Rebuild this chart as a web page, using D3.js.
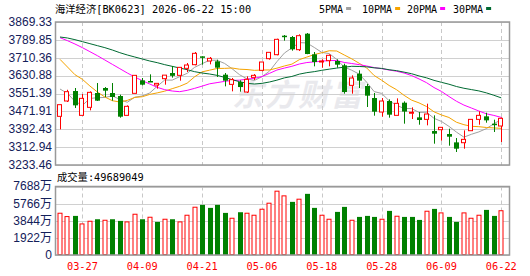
<!DOCTYPE html>
<html><head><meta charset="utf-8">
<script src="https://cdn.jsdelivr.net/npm/d3@7"></script>
<style>html,body{margin:0;padding:0;background:#fff;}svg{display:block;}</style>
</head><body>
<svg id="c" width="530" height="276"></svg>
<script>
const dates = ["03-24","03-25","03-26","03-27","03-30","03-31","04-01","04-02","04-03","04-07",
"04-08","04-09","04-10","04-13","04-14","04-15","04-16","04-17","04-20","04-21",
"04-22","04-23","04-24","04-27","04-28","04-29","04-30","05-06","05-07","05-08",
"05-11","05-12","05-13","05-14","05-15","05-18","05-19","05-20","05-21","05-22",
"05-25","05-26","05-27","05-28","05-29","06-01","06-02","06-03","06-04","06-05",
"06-08","06-09","06-10","06-11","06-12","06-15","06-16","06-17","06-18","06-22"];
const opens = [3449.8,3518.0,3562.4,3454.2,3489.8,3553.6,3575.8,3553.6,3540.2,3454.2,
3552.1,3609.9,3607.0,3589.0,3617.3,3642.5,3632.1,3663.3,3679.6,3716.6,
3695.9,3694.4,3635.1,3592.0,3602.5,3558.0,3623.2,3654.4,3706.3,3724.0,
3808.5,3802.6,3746.3,3817.4,3725.5,3691.4,3697.4,3695.9,3676.6,3587.6,
3639.5,3584.7,3531.3,3469.0,3518.0,3454.2,3510.5,3465.0,3445.3,3436.4,
3384.5,3390.5,3371.2,3334.1,3332.6,3386.0,3436.4,3449.8,3417.2,3406.8];
const closes = [3501.7,3559.5,3498.7,3529.8,3556.5,3519.5,3564.0,3535.8,3448.3,3494.3,
3632.1,3590.6,3604.0,3596.5,3633.0,3630.0,3667.7,3678.1,3730.0,3713.7,
3707.7,3666.2,3608.4,3612.9,3580.2,3614.3,3632.1,3691.4,3734.4,3792.2,
3805.6,3747.8,3808.5,3727.0,3691.4,3695.9,3721.1,3679.6,3558.0,3620.3,
3608.4,3541.7,3470.5,3518.0,3457.2,3507.6,3471.0,3468.0,3433.5,3460.2,
3372.7,3400.9,3359.3,3306.0,3347.5,3436.4,3454.2,3432.0,3414.2,3440.9];
const highs = [3503.0,3568.0,3575.8,3549.1,3561.0,3598.0,3580.0,3598.0,3546.1,3498.7,
3633.0,3620.3,3636.6,3597.0,3633.5,3673.6,3668.0,3687.0,3735.9,3717.0,
3713.7,3701.8,3642.5,3620.3,3610.0,3627.7,3638.0,3692.0,3735.0,3795.2,
3811.5,3807.1,3814.5,3820.4,3735.9,3703.3,3725.5,3703.3,3684.0,3632.1,
3654.4,3593.6,3553.6,3531.3,3525.4,3529.8,3516.5,3489.8,3469.0,3506.1,
3454.2,3401.5,3394.9,3353.4,3387.5,3437.0,3472.0,3466.0,3435.0,3445.3];
const lows = [3392.0,3513.5,3486.8,3453.5,3476.5,3518.0,3535.8,3519.5,3443.9,3453.5,
3551.5,3587.6,3603.0,3572.8,3590.6,3621.8,3608.4,3647.0,3676.6,3679.6,
3681.0,3624.7,3583.2,3561.0,3559.5,3553.6,3611.4,3650.0,3701.8,3721.1,
3786.3,3741.8,3740.3,3726.0,3672.2,3666.2,3672.2,3666.2,3550.6,3550.6,
3575.8,3491.3,3452.7,3448.3,3443.9,3453.5,3417.2,3437.9,3412.7,3409.8,
3328.2,3341.5,3319.3,3291.2,3306.0,3385.5,3412.7,3421.6,3380.1,3335.6];
// volume in 万
const volumes = [4688,4313,4388,3488,3788,4013,3900,4013,3825,3713,
4575,4013,4238,3713,4013,4013,3713,4463,5363,5625,
5288,5625,4725,4125,4800,4688,4463,5138,5813,7163,
6638,5963,6263,6863,5288,4463,4013,4838,5400,3900,
4275,4388,4275,4013,4950,4350,4275,4275,3938,4913,
5175,4725,4275,3713,4725,4125,4463,5063,4388,4969];
// moving-average values before the window is complete
const ma5Early = [3571.3,3552.1,3516.5,3498.7];
const ma10Early = [3703.3,3669.2,3635.1,3614.3,3584.7,3558.0,3535.8,3519.4,3513.5];
const ma20Early = [3799.7,3786.3,3771.5,3755.2,3737.4,3719.6,3700.3,3681.0,3661.8,3642.5,
3624.7,3608.4,3593.6,3578.8,3568.4,3562.5,3559.5,3565.4,3574.3];
const ma30Early = [3802.6,3798.2,3790.8,3781.9,3773.0,3764.1,3755.2,3744.8,3732.9,3722.6,
3713.7,3704.8,3695.9,3688.5,3679.6,3672.2,3664.7,3657.3,3648.4,3642.5,
3638.1,3632.1,3623.2,3612.9,3604.0,3596.5,3593.6,3596.5,3602.5];
const priceTicks = [3869.33,3789.85,3710.36,3630.88,3551.39,3471.91,3392.43,3312.94,3233.46];
const volTicks = [0,1922,3844,5766,7688];
const xTickLabels = ["03-27","04-09","04-21","05-06","05-18","05-28","06-09","06-22"];
const maNames = ["5PMA","10PMA","20PMA","30PMA"];
const maColors = ["#a0a0a0","#f5a300","#ff00ff","#006a32"];
const title = "海洋经济[BK0623] 2026-06-22 15:00";
const volTitle = "成交量:49689049";

function movingAvg(n, early){
  return closes.map((c,i)=> i>=n-1 ? d3.mean(closes.slice(i-n+1,i+1)) : early[i]);
}
const mas = [movingAvg(5,ma5Early),movingAvg(10,ma10Early),movingAvg(20,ma20Early),movingAvg(30,ma30Early)];

const svg = d3.select("#c");
const L = 55, R = 509.5, PT = 22, PB = 165, VT = 186.5, VB = 255;
const x = d3.scaleBand().domain(dates).range([56.25, 505.05]).padding(0);
const cx = d => x(d) + x.bandwidth()/2;
const y = d3.scaleLinear().domain([3233.46,3869.33]).range([PB,PT]);
const yv = d3.scaleLinear().domain([0,7688]).range([VB,VT]);
const RED = "#ff0000", GREEN = "#008000";
const monoFont = "'DejaVu Sans Mono','Noto Sans CJK SC',monospace";

// watermark
svg.append("text").attr("x",232).attr("y",106).attr("font-size",31).attr("font-weight","bold")
  .attr("font-style","italic").attr("fill","#e9e9ed").attr("font-family","'Noto Sans CJK SC'")
  .attr("letter-spacing",2).text("东方财富");

// grid price panel
svg.append("g").selectAll("line").data(priceTicks).join("line")
  .attr("x1",L).attr("x2",R).attr("y1",d=>Math.round(y(d))+0.5).attr("y2",d=>Math.round(y(d))+0.5)
  .attr("stroke","#d0d0d0").attr("stroke-width",1);
svg.append("g").selectAll("line").data(volTicks).join("line")
  .attr("x1",L).attr("x2",R).attr("y1",d=>Math.round(yv(d))+0.5).attr("y2",d=>Math.round(yv(d))+0.5)
  .attr("stroke","#d0d0d0").attr("stroke-width",1);
// vertical dashed
[[PT,PB],[VT,VB]].forEach(([t,b])=>{
  svg.append("g").selectAll("line").data(xTickLabels).join("line")
    .attr("x1",d=>Math.round(cx(d))+0.5).attr("x2",d=>Math.round(cx(d))+0.5).attr("y1",t).attr("y2",b)
    .attr("stroke","#c8c8c8").attr("stroke-dasharray","4,3");
});

// axes
const fmtP = d3.format(".2f");
const ay = svg.append("g").attr("transform",`translate(${L-3},0)`)
  .call(d3.axisLeft(y).tickValues(priceTicks).tickSize(0).tickPadding(0).tickFormat(fmtP));
ay.select(".domain").remove();
ay.selectAll("text").attr("font-family","'Liberation Sans',Arial,sans-serif").attr("font-size",12)
  .attr("fill","#13205a").attr("dy","0.28em");
const av = svg.append("g").attr("transform",`translate(${L-3},0)`)
  .call(d3.axisLeft(yv).tickValues(volTicks).tickSize(0).tickPadding(0).tickFormat(d=> d===0?"0":d+"万"));
av.select(".domain").remove();
av.selectAll("text").attr("font-family","'Liberation Sans','Noto Sans CJK SC',sans-serif").attr("font-size",12)
  .attr("fill","#13205a").attr("dy","0.28em");
const ax = svg.append("g").attr("transform",`translate(0,${VB})`)
  .call(d3.axisBottom(x).tickValues(xTickLabels).tickSize(0).tickPadding(0));
ax.select(".domain").remove();
ax.selectAll("text").attr("font-family",monoFont).attr("font-size",10.3).attr("fill",RED).attr("dy","15px");

// MA lines
const line = d3.line().x((d,i)=>cx(dates[i])).y(d=>y(d));
mas.forEach((m,k)=>{
  svg.append("path").datum(m).attr("d",line).attr("fill","none").attr("stroke",maColors[k]).attr("stroke-width",1);
});

// candles
const idx = d3.range(dates.length);
const bw = 5;
const cg = svg.append("g");
idx.forEach(i=>{
  const c = Math.round(cx(dates[i]));
  const up = closes[i] >= opens[i];
  const top = y(Math.max(opens[i],closes[i])), bot = y(Math.min(opens[i],closes[i]));
  const col = up ? RED : GREEN;
  if(up){
    cg.append("line").attr("x1",c+0.5).attr("x2",c+0.5).attr("y1",y(highs[i])).attr("y2",top).attr("stroke",col);
    cg.append("line").attr("x1",c+0.5).attr("x2",c+0.5).attr("y1",bot).attr("y2",y(lows[i])).attr("stroke",col);
    cg.append("rect").attr("x",c-2+0.5-0.5).attr("y",top).attr("width",bw-1+0.0).attr("height",Math.max(1,bot-top))
      .attr("fill","#fff").attr("stroke",col).attr("stroke-width",1).attr("transform","translate(-0.5,0)");
  } else {
    cg.append("line").attr("x1",c+0.5).attr("x2",c+0.5).attr("y1",y(highs[i])).attr("y2",y(lows[i])).attr("stroke",col);
    cg.append("rect").attr("x",c-2).attr("y",top).attr("width",bw).attr("height",Math.max(1.5,bot-top)).attr("fill",col);
  }
});

// volume bars (colour by change vs previous close)
svg.append("g").selectAll("rect").data(idx).join("rect")
  .each(function(i){
    const up = i===0 ? true : closes[i] >= closes[i-1];
    const c = Math.round(cx(dates[i]));
    const s = d3.select(this);
    if(up){
      s.attr("x",c-2).attr("y",yv(volumes[i])).attr("width",bw-1).attr("height",VB-yv(volumes[i])-0.5)
        .attr("fill","#fff").attr("stroke",RED).attr("stroke-width",1);
    } else {
      s.attr("x",c-2).attr("y",yv(volumes[i])).attr("width",bw).attr("height",VB-yv(volumes[i])).attr("fill",GREEN);
    }
  });

// panel borders
[[PT,PB],[VT,VB]].forEach(([t,b])=>{
  svg.append("rect").attr("x",L+0.5).attr("y",t).attr("width",R-L-0.5).attr("height",b-t)
    .attr("fill","none").attr("stroke","#999").attr("stroke-width",1.5);
});

// title and legend
svg.append("text").attr("x",55).attr("y",12.5).attr("font-family",monoFont).attr("font-size",10.3)
  .attr("fill","#000").text(title);
svg.append("text").attr("x",57).attr("y",181).attr("font-family",monoFont).attr("font-size",10.3)
  .attr("fill","#000").text(volTitle);
const legX = [319,362,407,453];
const lg = svg.append("g");
maNames.forEach((n,k)=>{
  const t = lg.append("text").attr("x",legX[k]).attr("y",12.5).attr("font-family",monoFont)
    .attr("font-size",10).attr("fill","#000").text(n);
  const w = t.node().getComputedTextLength();
  lg.append("rect").attr("x",legX[k]+w+3).attr("y",7).attr("width",5).attr("height",3).attr("fill",maColors[k]);
});
</script>
</body></html>
